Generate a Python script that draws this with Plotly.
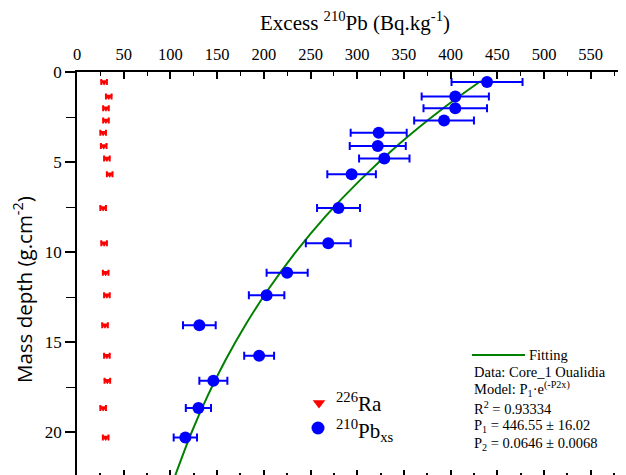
import plotly.graph_objects as go

# ---- data ----
depth = [0.55, 1.36, 2.01, 2.69, 3.37, 4.11, 4.80, 5.67, 7.55, 9.50,
         11.14, 12.39, 14.06, 15.75, 17.14, 18.65, 20.28]
pb210_xs = [439, 405, 405, 393, 323, 322, 329, 294, 280, 269,
            225, 203, 131, 195, 146, 130, 116]
pb210_err = [38, 36, 34, 32, 30, 30, 27, 26, 23, 24,
             22, 19, 17.5, 16, 15, 13.5, 12.5]
ra226 = [29, 34, 31, 31, 28, 28.6, 32, 35, 28, 29,
         30.7, 32, 30, 32, 32.5, 28, 30.7]
ra226_err = [3] * 17

fit_depth = [0.5, 2, 4, 6, 8, 10, 12, 14, 16, 18, 20, 22.5]
fit_value = [432.4, 392.4, 344.9, 303.1, 266.3, 234.1, 205.7, 180.8,
             158.9, 139.6, 122.7, 104.4]

x_ticks = list(range(0, 600, 50))
y_ticks = [0, 5, 10, 15, 20]

# ---- layout geometry (pixels) ----
OFF = 8                      # page body margin
W, H = 626 - OFF, 475 - OFF  # figure size
PLOT_L, PLOT_T = 77, 72      # plot area corner in screen pixels
L, T, R, B = PLOT_L - OFF, PLOT_T - OFF, 0, 0
PX_PER_X = 0.934
PX_PER_Y = 18.02
pw, ph = W - L - R, H - T - B
x_max = pw / PX_PER_X
y_max = ph / PX_PER_Y

def px2x(px):
    return (px - PLOT_L) / PX_PER_X

def py2y(py):
    return (py - PLOT_T) / PX_PER_Y

def pxp(px):
    return (px - PLOT_L) / pw

def pyp(py):
    return 1 - (py - PLOT_T) / ph

SERIF = "Liberation Serif, Times New Roman, serif"
BLUE = "#0000FF"
RED = "#FF0000"
GREEN = "#008000"

fig = go.Figure()

fig.add_trace(go.Scatter(
    x=fit_value, y=fit_depth, mode="lines", line=dict(color=GREEN, width=2, shape="spline"),
    showlegend=False, hoverinfo="skip"))

fig.add_trace(go.Scatter(
    x=ra226, y=depth, mode="markers",
    marker=dict(symbol="triangle-down", size=7, color=RED),
    error_x=dict(type="data", array=ra226_err, color=RED, thickness=2, width=3),
    showlegend=False))

fig.add_trace(go.Scatter(
    x=pb210_xs, y=depth, mode="markers",
    marker=dict(symbol="circle", size=12, color=BLUE),
    error_x=dict(type="data", array=pb210_err, color=BLUE, thickness=2, width=4),
    showlegend=False))

# legend symbols
fig.add_trace(go.Scatter(
    x=[px2x(319)], y=[py2y(403)], mode="markers", cliponaxis=False,
    marker=dict(symbol="triangle-down", size=11, color=RED), showlegend=False, hoverinfo="skip"))
fig.add_trace(go.Scatter(
    x=[px2x(318)], y=[py2y(428)], mode="markers", cliponaxis=False,
    marker=dict(symbol="circle", size=13, color=BLUE), showlegend=False, hoverinfo="skip"))

# invisible trace for mirror-tick axes
fig.add_trace(go.Scatter(x=[0], y=[0], xaxis="x2", yaxis="y2", mode="markers",
                         marker=dict(opacity=0), showlegend=False, hoverinfo="skip"))

annotations = [
    dict(text="Excess <sup>210</sup>Pb (Bq.kg<sup>-1</sup>)", x=pxp(355), y=pyp(22),
         xref="paper", yref="paper", showarrow=False, xanchor="center", yanchor="middle",
         font=dict(family=SERIF, size=21, color="black")),
    dict(text="Mass depth (g.cm<sup>-2</sup>)", x=pxp(23), y=pyp(290), textangle=-90,
         xref="paper", yref="paper", showarrow=False, xanchor="center", yanchor="middle",
         font=dict(family="Open Sans", size=20.5, color="black")),
    dict(text="<sup>226</sup>Ra", x=pxp(334), y=pyp(402), xref="paper", yref="paper",
         showarrow=False, xanchor="left", yanchor="middle",
         font=dict(family=SERIF, size=21, color="black")),
    dict(text="<sup>210</sup>Pb<sub>xs</sub>", x=pxp(334), y=pyp(430), xref="paper", yref="paper",
         showarrow=False, xanchor="left", yanchor="middle",
         font=dict(family=SERIF, size=21, color="black")),
]
legend_lines = [
    ("Fitting", 527, 355),
    ("Data: Core_1 Oualidia", 472, 372),
    ("Model: P<sub>1</sub>·e<sup>(-P2x)</sup>", 472, 389),
    ("R<sup>2</sup> = 0.93334", 472, 408),
    ("P<sub>1</sub> = 446.55 ± 16.02", 472, 426),
    ("P<sub>2</sub> = 0.0646 ± 0.0068", 472, 444),
]
for txt, px, py in legend_lines:
    annotations.append(dict(text=txt, x=pxp(px), y=pyp(py), xref="paper", yref="paper",
                            showarrow=False, xanchor="left", yanchor="middle",
                            font=dict(family=SERIF, size=14.5, color="black")))

shapes = [dict(type="line", xref="paper", yref="paper", x0=pxp(472), x1=pxp(525),
               y0=pyp(355), y1=pyp(355), line=dict(color=GREEN, width=2))]

fig.update_layout(
    width=W, height=H,
    margin=dict(l=L, r=R, t=T, b=B, pad=0),
    plot_bgcolor="white", paper_bgcolor="white",
    annotations=annotations, shapes=shapes,
    xaxis=dict(side="top", range=[0, x_max], tickvals=x_ticks, ticktext=[str(v) for v in x_ticks],
               showline=True, linecolor="black", linewidth=1.5, mirror=False,
               ticks="inside", ticklen=7, tickwidth=1.5, tickcolor="black",
               minor=dict(dtick=25, tick0=0, ticks="inside", ticklen=4, tickwidth=1, tickcolor="black"),
               showgrid=False, zeroline=False,
               tickfont=dict(family=SERIF, size=16.5, color="black"), ticklabelstandoff=4),
    yaxis=dict(range=[y_max, 0], tickvals=y_ticks, ticktext=[str(v) for v in y_ticks],
               showline=True, linecolor="black", linewidth=1.5,
               ticks="outside", ticklen=10, tickwidth=1.5, tickcolor="black",
               minor=dict(dtick=2.5, tick0=0, ticks="outside", ticklen=9, tickwidth=1, tickcolor="black"),
               showgrid=False, zeroline=False, ticklabelstandoff=0,
               tickfont=dict(family=SERIF, size=17, color="black")),
    xaxis2=dict(overlaying="x", matches="x", side="bottom", showline=False,
                tickvals=x_ticks, showticklabels=False,
                ticks="inside", ticklen=5, tickwidth=1.5, tickcolor="black",
                minor=dict(dtick=25, tick0=0, ticks="inside", ticklen=2, tickcolor="black"),
                showgrid=False, zeroline=False),
    yaxis2=dict(overlaying="y", matches="y", side="right", showline=False,
                tickvals=y_ticks, showticklabels=False,
                ticks="inside", ticklen=5, tickwidth=1.5, tickcolor="black",
                minor=dict(dtick=2.5, tick0=0, ticks="inside", ticklen=2, tickcolor="black"),
                showgrid=False, zeroline=False),
)

fig.write_html("out.html")
